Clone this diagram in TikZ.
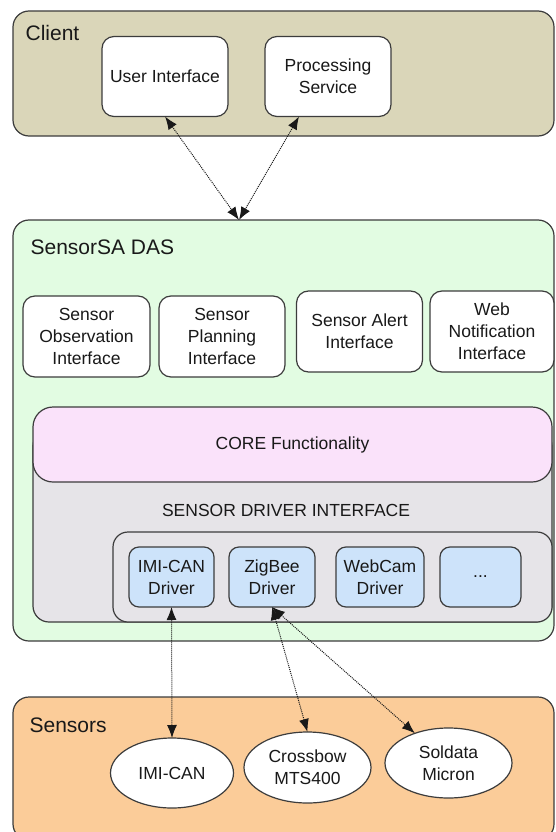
\documentclass[tikz,border=0pt]{standalone}
\usepackage{fontspec}
\setmainfont{Liberation Sans}
\usetikzlibrary{arrows.meta,shapes.geometric}
\definecolor{clientbg}{RGB}{218,214,185}
\definecolor{dasbg}{RGB}{226,252,226}
\definecolor{corebg}{RGB}{250,226,250}
\definecolor{drvbg}{RGB}{230,228,232}
\definecolor{drvbox}{RGB}{205,227,250}
\definecolor{sensbg}{RGB}{251,204,153}
\definecolor{edge}{RGB}{60,60,60}

\begin{document}
\begin{tikzpicture}[x=1pt,y=-1pt,line width=1.2pt,>={Latex[length=13pt,width=10pt]},
  region/.style={draw=edge,rounded corners=16pt,inner sep=0pt,outer sep=0pt},
  txt/.style={font=\fontsize{17.5}{22}\selectfont,text=black!90},
  box/.style={txt,draw=edge,fill=white,rounded corners=12pt,align=center,inner sep=2pt,outer sep=0pt},
  drv/.style={box,fill=drvbox,rounded corners=10pt,minimum height=60pt},
  sensor/.style={txt,ellipse,draw=edge,fill=white,align=center,inner sep=0pt,outer sep=0pt},
  title/.style={anchor=west,inner sep=0pt,font=\fontsize{21}{24}\selectfont,text=black!90},
  link/.style={<->,densely dotted,line width=1pt,black!90}]
  \useasboundingbox (0,0) rectangle (555,832);
  % client
  \node[region,fill=clientbg,minimum width=541pt,minimum height=125pt] (client) at (283.5,73.5) {};
  \node[title] (clientlbl) at (25,33) {Client};
  \node[box,minimum width=126pt,minimum height=80pt] (ui) at (165,76.5) {User Interface};
  \node[box,minimum width=126pt,minimum height=80pt] (ps) at (328,76.5) {Processing\\Service};
  % SensorSA DAS
  \node[region,fill=dasbg,minimum width=541pt,minimum height=421pt] (das) at (283.5,430.5) {};
  \node[title] (daslbl) at (30,247) {SensorSA DAS};
  \node[box,minimum width=127pt,minimum height=81pt] (obs) at (86.5,336.5) {Sensor\\Observation\\Interface};
  \node[box,minimum width=126pt,minimum height=81pt] (plan) at (222,336.5) {Sensor\\Planning\\Interface};
  \node[box,minimum width=126pt,minimum height=81pt] (alert) at (359.5,331.5) {Sensor Alert\\Interface};
  \node[box,minimum width=124pt,minimum height=81pt] (web) at (492,331.5) {Web\\Notification\\Interface};
  % core + driver interface
  \node[region,fill=drvbg,minimum width=519pt,minimum height=192pt] (sdi) at (292.5,526) {};
  \node[region,txt,fill=corebg,rounded corners=20pt,minimum width=519pt,minimum height=75pt] (core) at (292.5,444.5) {CORE Functionality};
  \node[txt] (sdilbl) at (286,510) {SENSOR DRIVER INTERFACE};
  \node[region,fill=drvbg,rounded corners=15pt,minimum width=439pt,minimum height=90pt] (drvset) at (332.5,577) {};
  \node[drv,minimum width=85pt] (imidrv) at (171.5,577) {IMI-CAN\\Driver};
  \node[drv,minimum width=86pt] (zig) at (272,577) {ZigBee\\Driver};
  \node[drv,minimum width=88pt] (webcam) at (380,577) {WebCam\\Driver};
  \node[drv,minimum width=81pt] (more) at (480.5,577) {...};
  % sensors
  \node[region,fill=sensbg,minimum width=541pt,minimum height=143pt] (sens) at (283.5,768.5) {};
  \node[title] (senslbl) at (29,725) {Sensors};
  \node[sensor,minimum width=123pt,minimum height=70pt] (imican) at (172,773) {IMI-CAN};
  \node[sensor,minimum width=127pt,minimum height=71pt] (xbow) at (307.5,767.5) {Crossbow\\MTS400};
  \node[sensor,minimum width=127pt,minimum height=70pt] (soldata) at (448.5,763) {Soldata\\Micron};
  % links
  \coordinate (hub) at (239,220);
  \draw[link] (ui.south) -- (hub);
  \draw[link] ([xshift=-29pt]ps.south) -- (hub);
  \draw[link] (imidrv.south) -- (imican.north);
  \draw[link] (zig.south) -- (xbow.north);
  \draw[link] (zig.south) -- (soldata);
\end{tikzpicture}
\end{document}
